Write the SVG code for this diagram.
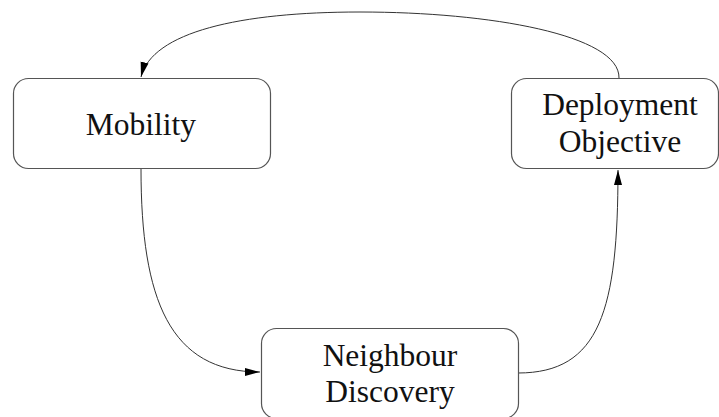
<svg xmlns="http://www.w3.org/2000/svg" width="719" height="417" viewBox="0 0 719 417">
<style>
.box{fill:#fff;stroke:#555;stroke-width:1.2}
.lbl{font-family:"Liberation Serif","Times New Roman",serif;font-size:31.5px;fill:#111;text-anchor:middle}
.edge{fill:none;stroke:#333;stroke-width:1}
</style>
<defs>
<marker id="arr" markerWidth="16" markerHeight="10" refX="15" refY="5" orient="auto" markerUnits="userSpaceOnUse">
<path d="M0,1 L15,5 L0,9 Z" fill="#000"/>
</marker>
</defs>
<rect width="719" height="417" fill="#fff"/>
<g id="edges">
<path class="edge" d="M619,78 C620,35 490,12 360,12 C240,12 152,32 141,77" marker-end="url(#arr)"/>
<path class="edge" d="M141,169 C141,300 170,372 260,372" marker-end="url(#arr)"/>
<path class="edge" d="M518,373 C600,373 618,310 618,170" marker-end="url(#arr)"/>
</g>
<g id="mobility">
<rect class="box" x="13.5" y="78.5" width="257" height="90" rx="15"/>
<text class="lbl" x="141" y="135">Mobility</text>
</g>
<g id="deployment">
<rect class="box" x="511.5" y="78.5" width="207" height="90" rx="15"/>
<text class="lbl" x="620" y="115">Deployment</text>
<text class="lbl" x="620" y="152">Objective</text>
</g>
<g id="neighbour">
<rect class="box" x="261.5" y="328.5" width="257" height="90" rx="15"/>
<text class="lbl" x="390" y="366">Neighbour</text>
<text class="lbl" x="390" y="402">Discovery</text>
</g>
</svg>
